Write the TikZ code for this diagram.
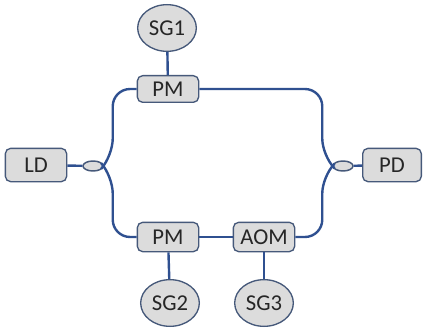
\documentclass[tikz,border=0pt]{standalone}
\usepackage{fontspec}
\setmainfont{Carlito}
\usetikzlibrary{shapes.geometric}
\definecolor{fibreblue}{HTML}{2F5090}
\definecolor{rimgray}{HTML}{46597A}
\definecolor{boxgray}{HTML}{DCDCDC}
\definecolor{txtgray}{HTML}{262626}
\begin{document}
\begin{tikzpicture}[x=0.75pt,y=-0.75pt,
    dev/.style={draw=rimgray,line width=1pt,fill=boxgray,rounded corners=4pt,
      minimum width=46pt,minimum height=22pt,inner sep=0pt,text=txtgray,
      font=\fontsize{17}{20}\selectfont},
    gen/.style={ellipse,draw=rimgray,line width=1pt,fill=boxgray,
      minimum width=44pt,minimum height=35pt,inner sep=0pt,text=txtgray,
      font=\fontsize{17}{20}\selectfont},
    coup/.style={ellipse,draw=rimgray,line width=1.1pt,fill=boxgray,
      minimum width=15pt,minimum height=7.5pt,inner sep=0pt},
    fibre/.style={draw=fibreblue,line width=1.8pt}]
      \useasboundingbox (0,0) rectangle (425,328);
      \draw
        (36,165) node[dev,minimum height=25pt] (LD){LD}
        (392,165) node[dev,minimum height=25pt,minimum width=44pt] (PD){PD}
        (93,166) node[coup] (lc){}
        (343,166) node[coup] (rc){}
        (168,89) node[dev,minimum height=20pt] (pmA){PM}
        (168,237) node[dev] (pmB){PM}
        (264,237) node[dev] (aom){AOM}
        (167,28) node[gen] (sg1){SG1}
        (170,303) node[gen] (sg2){SG2}
        (264,303) node[gen] (sg3){SG3};
      \begin{scope}[fibre]
        \draw (LD) to (lc);
        \draw (rc) to (PD);
        \draw[rounded corners=13pt] (lc.east) -- ++(9,-10) |- (pmA);
        \draw[rounded corners=13pt] (lc.east) -- ++(9,10) |- (pmB);
        \draw[rounded corners=13pt] (rc.west) -- ++(-10,-10) |- (pmA);
        \draw[rounded corners=13pt] (rc.west) -- ++(-10,10) |- (aom);
        \draw (pmB) to (aom);
        \draw (sg1) to (pmA);
        \draw (pmB) to (sg2);
        \draw (aom) to (sg3);
      \end{scope}
    \end{tikzpicture}
\end{document}
